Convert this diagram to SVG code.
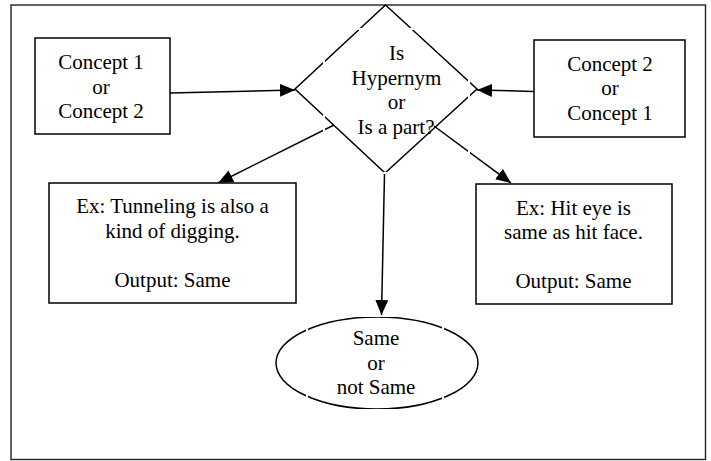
<svg xmlns="http://www.w3.org/2000/svg" width="711" height="461" viewBox="0 0 711 461">
  <style>
    .frame { fill: none; stroke: #222; stroke-width: 1.4; }
    .box { fill: #fff; stroke: #000; stroke-width: 1.5; }
    .shape { fill: none; stroke: #000; stroke-width: 1.5; }
    .textframe { fill: none; stroke: #fff; stroke-width: 2; }
    .edge { fill: none; stroke: #000; stroke-width: 1.5; }
    text { font-family: "Liberation Serif", "Times New Roman", serif; font-size: 21px; fill: #000; text-anchor: middle; }
  </style>
  <defs>
    <marker id="arrow" viewBox="0 0 15 13" refX="15" refY="6.5" markerWidth="15" markerHeight="13" markerUnits="userSpaceOnUse" orient="auto">
      <path d="M0,0 L15,6.5 L0,13 z" fill="#000"/>
    </marker>
  </defs>

  <rect class="frame" x="11" y="5" width="694.5" height="454.5"/>

  <g id="connectors">
    <line class="edge" x1="170" y1="93" x2="295" y2="90" marker-end="url(#arrow)"/>
    <line class="edge" x1="534" y1="91.5" x2="477" y2="90" marker-end="url(#arrow)"/>
    <line class="edge" x1="334" y1="125" x2="218" y2="183" marker-end="url(#arrow)"/>
    <line class="edge" x1="434" y1="126" x2="511" y2="183" marker-end="url(#arrow)"/>
    <line class="edge" x1="384.5" y1="174" x2="381.5" y2="315" marker-end="url(#arrow)"/>
  </g>

  <g id="concept-left">
    <rect class="box" x="35" y="38" width="135" height="96"/>
    <text x="101" y="69">Concept 1</text>
    <text x="101" y="93.5">or</text>
    <text x="101" y="118">Concept 2</text>
  </g>

  <g id="concept-right">
    <rect class="box" x="534" y="40" width="151" height="97"/>
    <text x="610" y="70.5">Concept 2</text>
    <text x="610" y="95">or</text>
    <text x="610" y="119.5">Concept 1</text>
  </g>

  <g id="decision">
    <polygon class="shape" points="385.5,5 477,89 385,173 295,89"/>
    <rect class="textframe" x="324" y="29" width="145" height="144"/>
    <text x="396.5" y="60">Is</text>
    <text x="396.5" y="84.5">Hypernym</text>
    <text x="396.5" y="109">or</text>
    <text x="396" y="133.5">Is a part?</text>
  </g>

  <g id="example-hypernym">
    <rect class="box" x="49" y="183" width="247" height="120"/>
    <text x="172.5" y="213">Ex: Tunneling is also a</text>
    <text x="172.5" y="238">kind of digging.</text>
    <text x="172.5" y="287">Output: Same</text>
  </g>

  <g id="example-part">
    <rect class="box" x="476" y="184" width="196" height="120"/>
    <text x="573.5" y="214.5">Ex: Hit eye is</text>
    <text x="573.5" y="239">same as hit face.</text>
    <text x="573.5" y="288">Output: Same</text>
  </g>

  <g id="result">
    <ellipse class="shape" cx="377" cy="363" rx="101" ry="46"/>
    <rect class="textframe" x="307" y="316" width="136" height="94"/>
    <text x="376" y="345">Same</text>
    <text x="376" y="369.5">or</text>
    <text x="376" y="394">not Same</text>
  </g>
</svg>
